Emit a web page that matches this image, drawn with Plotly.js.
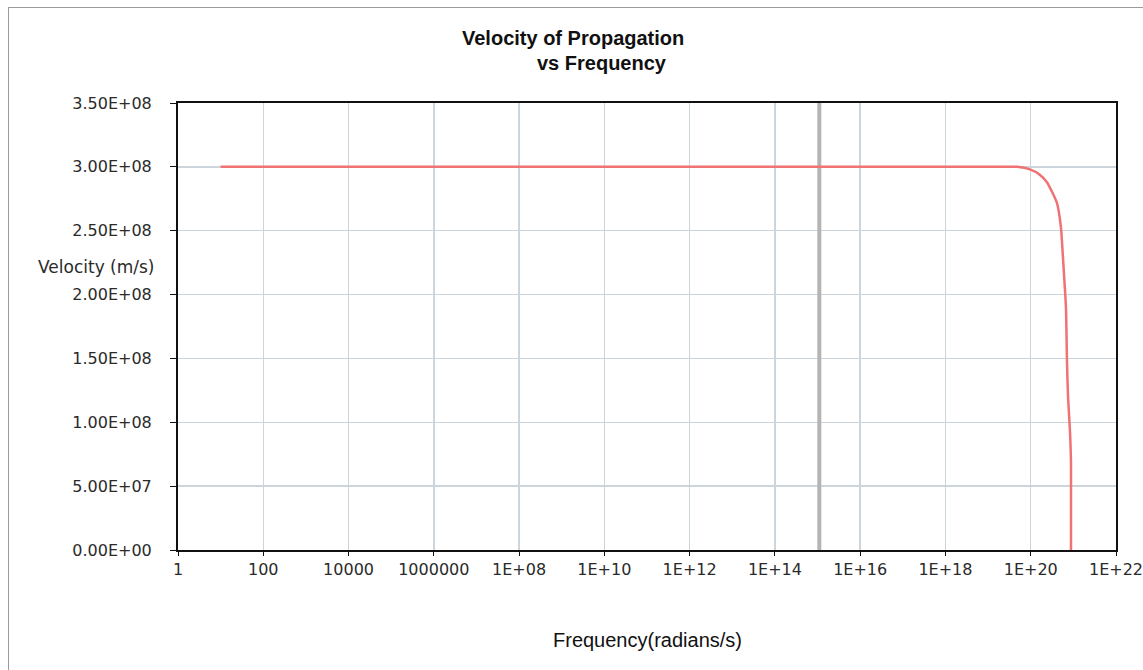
<!DOCTYPE html>
<html>
<head>
<meta charset="utf-8">
<script src="https://cdn.plot.ly/plotly-3.0.1.min.js"></script>
<style>
  html, body { margin: 0; padding: 0; background: #fff; }
  #frame { position: absolute; left: 8px; top: 7px; width: 1135px; height: 663px;
           border-top: 1px solid #9a9a9a; border-left: 1px solid #9a9a9a; box-sizing: border-box; }
  #chart { position: absolute; left: 0; top: 0; width: 1143px; height: 670px; }
</style>
</head>
<body>
<div id="frame"></div>
<div id="chart"></div>
<script>
// Frequency (radians/s) and velocity of propagation (m/s)
const frequency = [10, 1e2, 1e4, 1e6, 1e8, 1e10, 1e12, 1e14, 1e16, 1e18, 1e19, 4.8e19, 9.6e19, 1.6e20, 2.4e20, 4.1e20, 5.1e20, 5.7e20, 6.7e20, 7.1e20, 7.5e20, 8.3e20, 8.8e20, 8.8e20];
const velocity  = [3.0e8, 3.0e8, 3.0e8, 3.0e8, 3.0e8, 3.0e8, 3.0e8, 3.0e8, 3.0e8, 3.0e8, 3.0e8, 3.0e8, 2.98e8, 2.94e8, 2.88e8, 2.72e8, 2.53e8, 2.29e8, 1.90e8, 1.46e8, 1.20e8, 0.94e8, 0.68e8, 0.0];

// Gray vertical marker line
const markerFreq = [1.1e15, 1.1e15];
const markerVel  = [0, 3.5e8];

// Tick labels
const xTickVals = [1, 1e2, 1e4, 1e6, 1e8, 1e10, 1e12, 1e14, 1e16, 1e18, 1e20, 1e22];
const xTickText = ["1", "100", "10000", "1000000", "1E+08", "1E+10", "1E+12", "1E+14", "1E+16", "1E+18", "1E+20", "1E+22"];
const yTickVals = [0, 5e7, 1e8, 1.5e8, 2e8, 2.5e8, 3e8, 3.5e8];
const yTickText = ["0.00E+00", "5.00E+07", "1.00E+08", "1.50E+08", "2.00E+08", "2.50E+08", "3.00E+08", "3.50E+08"];

const traces = [
  { x: markerFreq, y: markerVel, type: 'scatter', mode: 'lines',
    line: { color: '#b4b4b4', width: 4 }, hoverinfo: 'skip', showlegend: false },
  { x: frequency, y: velocity, type: 'scatter', mode: 'lines',
    line: { color: '#f07272', width: 2.5, shape: 'spline', smoothing: 0.5 }, showlegend: false }
];

const tickFont = { family: 'DejaVu Sans, Verdana, sans-serif', size: 16, color: '#2a2a2a' };

const layout = {
  width: 1143, height: 670,
  margin: { l: 178, r: 27, t: 103, b: 120 },
  paper_bgcolor: 'rgba(0,0,0,0)',
  plot_bgcolor: '#ffffff',
  showlegend: false,
  xaxis: {
    type: 'log', range: [0, 22],
    tickvals: xTickVals, ticktext: xTickText,
    tickfont: tickFont, ticks: 'outside', ticklen: 4, tickcolor: '#111',
    showline: true, linecolor: '#111', linewidth: 2, mirror: true,
    showgrid: true, gridcolor: '#cdd5dc', gridwidth: 1.5,
    zeroline: false, ticklabelstandoff: 0, ticklabeloverflow: 'allow'
  },
  yaxis: {
    range: [0, 3.5e8],
    tickvals: yTickVals, ticktext: yTickText,
    tickfont: tickFont, ticks: 'outside', ticklen: 6, tickcolor: '#111',
    showline: true, linecolor: '#111', linewidth: 2, mirror: true,
    showgrid: true, gridcolor: '#cdd5dc', gridwidth: 1.5,
    zeroline: false, ticklabelstandoff: 15
  },
  annotations: [
    { text: '<b>Velocity of Propagation</b>', xref: 'paper', yref: 'paper',
      x: 0.421, y: 1, yshift: 65, xanchor: 'center', yanchor: 'middle', showarrow: false,
      font: { family: 'Liberation Sans, Arial, sans-serif', size: 20, color: '#111' } },
    { text: '<b>vs Frequency</b>', xref: 'paper', yref: 'paper',
      x: 0.452, y: 1, yshift: 40, xanchor: 'center', yanchor: 'middle', showarrow: false,
      font: { family: 'Liberation Sans, Arial, sans-serif', size: 20, color: '#111' } },
    { text: 'Velocity (m/s)', xref: 'paper', yref: 'paper',
      x: 0, xshift: -21, y: 0.632, xanchor: 'right', yanchor: 'middle', showarrow: false,
      font: { family: 'DejaVu Sans, Verdana, sans-serif', size: 17, color: '#2a2a2a' } },
    { text: 'Frequency(radians/s)', xref: 'paper', yref: 'paper',
      x: 0.5, y: 0, yshift: -90, xanchor: 'center', yanchor: 'middle', showarrow: false,
      font: { family: 'Liberation Sans, Arial, sans-serif', size: 20, color: '#111' } }
  ]
};

Plotly.newPlot('chart', traces, layout, { displayModeBar: false, staticPlot: true });
</script>
</body>
</html>
